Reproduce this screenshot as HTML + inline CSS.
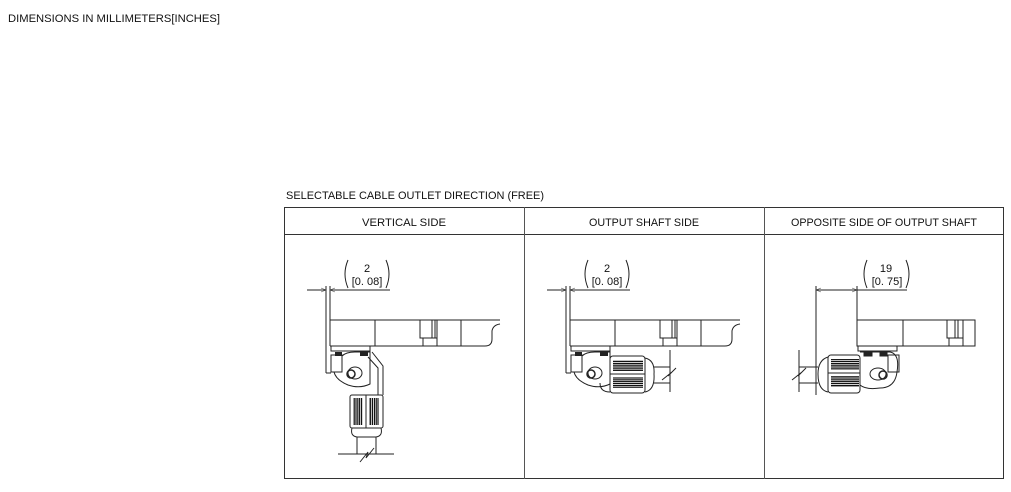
<!DOCTYPE html>
<html><head><style>
html,body{margin:0;padding:0;background:#fff;}
svg{display:block;}
text{font-family:"Liberation Sans",sans-serif;fill:#111;}
</style></head><body>
<svg width="1011" height="492" viewBox="0 0 1011 492" xmlns="http://www.w3.org/2000/svg">
<defs>
<pattern id="hs" width="4" height="2.2" patternUnits="userSpaceOnUse"><rect width="4" height="1.4" fill="#111"/></pattern>
<pattern id="vs" width="2.2" height="4" patternUnits="userSpaceOnUse"><rect width="1.4" height="4" fill="#111"/></pattern>
<marker id="ar" viewBox="0 0 10 10" refX="10" refY="5" markerWidth="8" markerHeight="5" orient="auto-start-reverse" markerUnits="userSpaceOnUse"><path d="M0,1 L10,5 L0,9" fill="none" stroke="#333" stroke-width="1"/></marker>
<g id="body">
  <path d="M330,320 H500 M330,346 H485 Q492,346 492,339 V331 Q493,325 500,324" fill="none" stroke="#222" stroke-width="1"/>
  <line x1="330" y1="320" x2="330" y2="346" stroke="#222"/>
  <line x1="375" y1="320" x2="375" y2="346" stroke="#222"/>
  <rect x="420" y="320" width="17" height="18" fill="none" stroke="#222"/>
  <rect x="423" y="338" width="14" height="8" fill="none" stroke="#222"/>
  <line x1="432" y1="320" x2="432" y2="338" stroke="#222"/>
  <line x1="435" y1="320" x2="435" y2="338" stroke="#222"/>
  <line x1="461" y1="320" x2="461" y2="346" stroke="#222"/>
  <rect x="331" y="346" width="39" height="5" fill="none" stroke="#222"/>
</g>
<g id="elbow">
  <rect x="331" y="355" width="11" height="17" fill="none" stroke="#222"/>
  <rect x="335" y="352" width="7" height="4" fill="#222"/>
  <rect x="360" y="352" width="8" height="4" fill="#222"/>
  <path d="M342,356 Q346,352 355,352 L370,352 L370,384 Q360,389 348,385 Q336,380 334,372" fill="none" stroke="#222"/>
  <ellipse cx="355" cy="373" rx="7" ry="6" fill="none" stroke="#222"/>
  <circle cx="351" cy="374" r="4" fill="none" stroke="#222" stroke-width="1.5"/>
</g>
</defs>
<text x="8" y="22" font-size="11" textLength="212" lengthAdjust="spacingAndGlyphs">DIMENSIONS IN MILLIMETERS[INCHES]</text>
<text x="286" y="199" font-size="11" textLength="258" lengthAdjust="spacingAndGlyphs">SELECTABLE CABLE OUTLET DIRECTION (FREE)</text>
<rect x="284.5" y="207.5" width="719" height="271" fill="none" stroke="#333"/>
<line x1="284" y1="234.5" x2="1004" y2="234.5" stroke="#333"/>
<line x1="524.5" y1="207" x2="524.5" y2="479" stroke="#555"/>
<line x1="764.5" y1="207" x2="764.5" y2="479" stroke="#555"/>
<text x="404" y="226" font-size="11" text-anchor="middle" textLength="84" lengthAdjust="spacingAndGlyphs">VERTICAL SIDE</text>
<text x="644" y="226" font-size="11" text-anchor="middle" textLength="110" lengthAdjust="spacingAndGlyphs">OUTPUT SHAFT SIDE</text>
<text x="884" y="226" font-size="11" text-anchor="middle" textLength="186" lengthAdjust="spacingAndGlyphs">OPPOSITE SIDE OF OUTPUT SHAFT</text>

<!-- Panel 1 -->
<g stroke="#222" fill="none">
  <line x1="307" y1="290" x2="326" y2="290" marker-end="url(#ar)"/>
  <line x1="390" y1="290" x2="330" y2="290" marker-end="url(#ar)"/>
  <line x1="326" y1="286" x2="326" y2="373"/>
  <line x1="330" y1="286" x2="330" y2="320"/>
  <line x1="326" y1="373" x2="331" y2="373"/>
  <path d="M348,260 Q342,274 348,288"/><path d="M386,260 Q392,274 386,288"/>
  <path d="M368,357 L378,368 L378,395 M372,352 L383,366 L383,395"/>
  <rect x="350" y="395" width="33" height="33" rx="2"/>
  <rect x="353" y="398" width="10" height="27" fill="url(#vs)" stroke="none"/>
  <rect x="369" y="398" width="10" height="27" fill="url(#vs)" stroke="none"/>
  <line x1="366" y1="395" x2="366" y2="428"/>
  <path d="M352,428 Q350,436 357,437 H376 Q383,436 381,428"/>
  <line x1="357" y1="437" x2="357" y2="454"/><line x1="376" y1="437" x2="376" y2="454"/>
  <line x1="338" y1="454" x2="394" y2="454"/>
  <path d="M360,462 L368,452 L366,458 L374,448"/>
</g>
<use href="#body"/><use href="#elbow"/>
<text x="367" y="272" font-size="11" text-anchor="middle">2</text>
<text x="367" y="285" font-size="11" text-anchor="middle">[0. 08]</text>

<!-- Panel 2 -->
<g stroke="#222" fill="none">
  <line x1="547" y1="290" x2="566" y2="290" marker-end="url(#ar)"/>
  <line x1="630" y1="290" x2="570" y2="290" marker-end="url(#ar)"/>
  <line x1="566" y1="286" x2="566" y2="373"/>
  <line x1="570" y1="286" x2="570" y2="320"/>
  <line x1="566" y1="373" x2="571" y2="373"/>
  <path d="M588,260 Q582,274 588,288"/><path d="M626,260 Q632,274 626,288"/>
  <rect x="610" y="356" width="35" height="37" rx="3"/>
  <rect x="613" y="360" width="30" height="11" fill="url(#hs)" stroke="none"/>
  <rect x="613" y="377" width="30" height="11" fill="url(#hs)" stroke="none"/>
  <line x1="610" y1="374" x2="645" y2="374"/>
  <path d="M645,358 Q655,360 654,374 Q655,390 645,392"/>
  <line x1="654" y1="367" x2="670" y2="367"/><line x1="654" y1="383" x2="670" y2="383"/>
  <line x1="670" y1="350" x2="670" y2="392"/>
  <path d="M662,380 L672,372 L668,376 L676,368"/>
  <path d="M600,383 Q600,392 610,392"/>
</g>
<use href="#body" transform="translate(240,0)"/><use href="#elbow" transform="translate(240,0)"/>
<text x="607" y="272" font-size="11" text-anchor="middle">2</text>
<text x="607" y="285" font-size="11" text-anchor="middle">[0. 08]</text>

<!-- Panel 3 -->
<g stroke="#222" fill="none">
  <line x1="838" y1="290" x2="816" y2="290" marker-end="url(#ar)"/>
  <line x1="838" y1="290" x2="857" y2="290" marker-end="url(#ar)"/>
  <line x1="816" y1="286" x2="816" y2="395"/>
  <line x1="857" y1="286" x2="857" y2="320"/>
  <line x1="857" y1="290" x2="907" y2="290"/>
  <path d="M867,260 Q861,274 867,288"/><path d="M906,260 Q912,274 906,288"/>
  <path d="M857,320 H975 V346 H857 Z"/>
  <line x1="903" y1="320" x2="903" y2="346"/>
  <rect x="947" y="320" width="16" height="18"/><rect x="949" y="338" width="14" height="8"/>
  <line x1="955" y1="320" x2="955" y2="338"/><line x1="958" y1="320" x2="958" y2="338"/>
  <rect x="858" y="346" width="39" height="5"/>
  <rect x="828" y="355" width="32" height="38" rx="3"/>
  <rect x="831" y="359" width="28" height="11" fill="url(#hs)" stroke="none"/>
  <rect x="831" y="376" width="28" height="11" fill="url(#hs)" stroke="none"/>
  <line x1="828" y1="373" x2="860" y2="373"/>
  <path d="M828,357 Q818,360 818,374 Q818,390 828,392"/>
  <line x1="799" y1="367" x2="818" y2="367"/><line x1="799" y1="383" x2="818" y2="383"/>
  <line x1="799" y1="350" x2="799" y2="392"/>
  <path d="M792,380 L802,372 L798,376 L806,368"/>
  <path d="M860,352 H890 Q900,354 897,372 Q895,388 880,388 Q866,390 860,385"/>
  <rect x="888" y="355" width="11" height="17"/>
  <rect x="864" y="352" width="8" height="4" fill="#222"/><rect x="880" y="352" width="7" height="4" fill="#222"/>
  <ellipse cx="878" cy="374" rx="8" ry="6"/>
  <circle cx="883" cy="375" r="4" stroke-width="1.5"/>
</g>
<text x="886" y="272" font-size="11" text-anchor="middle">19</text>
<text x="887" y="285" font-size="11" text-anchor="middle">[0. 75]</text>
</svg>
</body></html>
